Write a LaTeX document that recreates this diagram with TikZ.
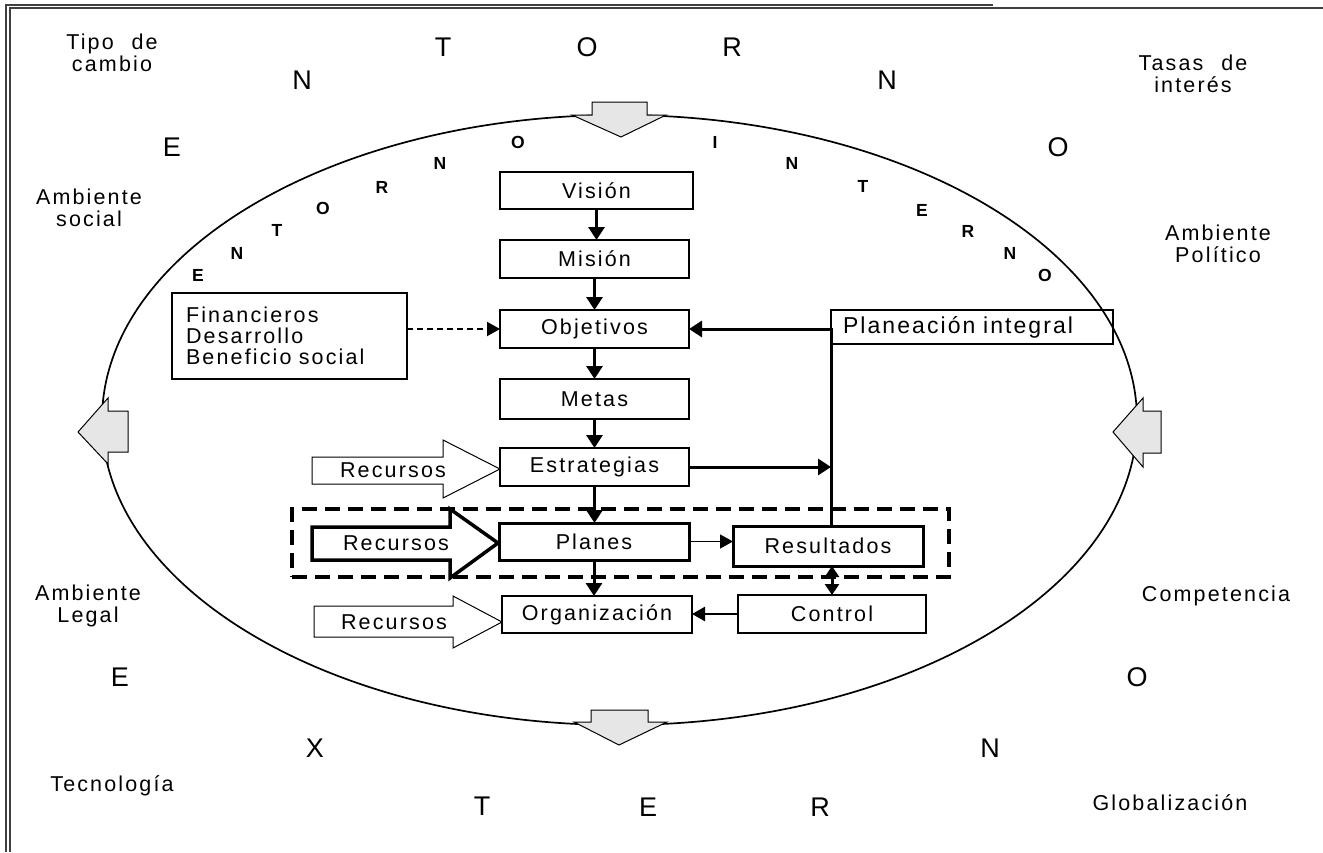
\documentclass[tikz,border=0pt]{standalone}
\usepackage{fontspec}
\setmainfont{Liberation Sans}
\newfontfamily\spc[LetterSpace=10,WordSpace=2.2]{Liberation Sans}
\newfontfamily\spcb[LetterSpace=9,WordSpace=2.0]{Liberation Sans}
\usetikzlibrary{arrows.meta,calc}
\definecolor{arrowgray}{HTML}{E6E6E6}
\begin{document}
\begin{tikzpicture}[x=1pt,y=-1pt,
  every node/.style={inner sep=0pt, outer sep=0pt},
  lbl/.style={font=\spc\fontsize{21.5}{22}\selectfont, align=center},
  box/.style={draw, line width=1.5pt, font=\spc\fontsize{21.5}{22}\selectfont},
  thickbox/.style={box, line width=3pt},
  outerletter/.style={font=\fontsize{27}{27}\selectfont},
  innerletter/.style={font=\bfseries\fontsize{17.5}{17.5}\selectfont},
  arr/.style={line width=3pt, -{Triangle[width=16pt,length=13pt]}},
  thinarr/.style={line width=1.5pt, -{Triangle[width=14pt,length=13pt]}},
  dasharr/.style={line width=2pt, dash pattern=on 6pt off 4pt, -{Triangle[width=14pt,length=13pt]}},
  blockarrow/.style={draw, line width=1pt, fill=white},
  grayarrow/.style={draw, line width=1pt, fill=arrowgray},
  frameline/.style={line width=1.5pt, draw=black!75}
]
\useasboundingbox (0,0) rectangle (1323,852);
% frame
\draw[frameline] (6,852) -- (6,5) -- (993,5);
\draw[frameline] (10,852) -- (10,8) -- (1323,8);

% ellipse
\draw[line width=1.7pt] (619.5,420) ellipse [x radius=517.5pt, y radius=305pt];

% gray arrows on the ellipse
\draw[grayarrow] (592,102) -- (647,102) -- (647,115) -- (666,115) -- (621,137) -- (572,115) -- (592,115) -- cycle;
\draw[grayarrow] (591,710) -- (648,710) -- (648,722) -- (667,722) -- (619,745) -- (574,722) -- (591,722) -- cycle;
\draw[grayarrow] (128,411) -- (128,452) -- (108,452) -- (108,464) -- (78,432) -- (108,398) -- (108,411) -- cycle;
\draw[grayarrow] (1143,411) -- (1161,411) -- (1161,453) -- (1143,453) -- (1143,467) -- (1113,432) -- (1143,398) -- cycle;

% outer letters ENTORNO EXTERNO
\node[outerletter] (oa) at (172,147) {E};
\node[outerletter] (ob) at (302,80) {N};
\node[outerletter] (oc) at (443,47) {T};
\node[outerletter] (od) at (587,47) {O};
\node[outerletter] (oe) at (732,47) {R};
\node[outerletter] (of) at (887,80) {N};
\node[outerletter] (og) at (1058,147) {O};
\node[outerletter] (oh) at (120,677) {E};
\node[outerletter] (oi) at (315,748) {X};
\node[outerletter] (oj) at (482,806) {T};
\node[outerletter] (ok) at (648,807) {E};
\node[outerletter] (ol) at (820,807) {R};
\node[outerletter] (om) at (990,748) {N};
\node[outerletter] (on) at (1137,677) {O};

% inner letters ENTORNO INTERNO
\node[innerletter] (ia) at (198,275) {E};
\node[innerletter] (ib) at (237,253) {N};
\node[innerletter] (ic) at (277,230) {T};
\node[innerletter] (id) at (323,208) {O};
\node[innerletter] (ie) at (382,187) {R};
\node[innerletter] (if) at (440,163) {N};
\node[innerletter] (ig) at (518,142) {O};
\node[innerletter] (ih) at (715,142) {I};
\node[innerletter] (ii) at (792,163) {N};
\node[innerletter] (ij) at (863,186) {T};
\node[innerletter] (ik) at (922,210) {E};
\node[innerletter] (il) at (968,231) {R};
\node[innerletter] (im) at (1010,253) {N};
\node[innerletter] (in) at (1045,275) {O};

% side labels
\node[lbl] (tipo) at (112,53) {Tipo de\\cambio};
\node[lbl] (tasas) at (1193,74) {Tasas de\\interés};
\node[lbl] (asoc) at (89,208) {Ambiente\\social};
\node[lbl] (apol) at (1218,244) {Ambiente\\Político};
\node[lbl] (aleg) at (88,606) {Ambiente\\Legal};
\node[lbl] (comp) at (1216,596) {Competencia};
\node[lbl] (tec) at (112,786) {Tecnología};
\node[lbl] (glob) at (1170,803) {Globalización};

% dashed group
\node[draw, line width=4pt, dash pattern=on 15pt off 8pt, minimum width=657pt, minimum height=68pt] (grupo) at (620.5,543) {};

% boxes
\node[box, minimum width=193pt, minimum height=37pt] (vision) at (596.5,190.5) {Visión};
\node[box, minimum width=189pt, minimum height=38pt] (mision) at (594.5,259) {Misión};
\node[box, minimum width=189pt, minimum height=38pt] (objetivos) at (594.5,329) {Objetivos};
\node[box, minimum width=189pt, minimum height=40pt] (metas) at (594.5,399) {Metas};
\node[box, minimum width=189pt, minimum height=38pt] (estrategias) at (594.5,467) {Estrategias};
\node[thickbox, minimum width=190pt, minimum height=37pt, fill=white] (planes) at (594,541.5) {Planes};
\node[thickbox, minimum width=190pt, minimum height=40pt, fill=white] (resultados) at (828,546) {Resultados};
\node[box, minimum width=190pt, minimum height=37pt] (organizacion) at (597,614.5) {Organización};
\node[box, minimum width=188pt, minimum height=38pt] (control) at (832,614) {Control};
\node[draw, line width=1.5pt, font=\spcb\fontsize{23}{24}\selectfont, minimum height=34pt, text width=258pt, inner xsep=12pt, align=left] (planeacion) at (972,327) {Planeación integral};
\node[draw, line width=1.5pt, font=\spc\fontsize{21.5}{21}\selectfont, minimum height=86pt, text width=207pt, inner xsep=14pt, align=left] (financieros) at (289.5,336) {Financieros\\Desarrollo\\Beneficio social};

% Recursos block arrows
\draw[blockarrow] (312,457) -- (443,457) -- (443,440) -- (500,469) -- (443,498) -- (443,484) -- (312,484) -- cycle;
\node[font=\spc\fontsize{21.5}{22}\selectfont] (rec1) at (393,470) {Recursos};
\draw[blockarrow, line width=3.5pt] (312,527) -- (450,527) -- (450,509) -- (498,543) -- (450,578) -- (450,560) -- (312,560) -- cycle;
\node[font=\spc\fontsize{21.5}{22}\selectfont] (rec2) at (396,543) {Recursos};
\draw[blockarrow] (314,606) -- (453,606) -- (453,596) -- (502,622) -- (453,648) -- (453,637) -- (314,637) -- cycle;
\node[font=\spc\fontsize{21.5}{22}\selectfont] (rec3) at (394,622) {Recursos};

% connectors
\draw[arr] (vision.south) -- (vision.south |- mision.north);
\draw[arr] (mision.south) -- (mision.south |- objetivos.north);
\draw[arr] (objetivos.south) -- (objetivos.south |- metas.north);
\draw[arr] (metas.south) -- (metas.south |- estrategias.north);
\draw[arr] (estrategias.south) -- (estrategias.south |- planes.north);
\draw[arr] (planes.south) -- (planes.south |- organizacion.north);
\draw[dasharr] (financieros.east |- objetivos.west) -- (objetivos.west);
\draw[arr] (resultados.north -| planeacion.west) -- (planeacion.west |- objetivos.east) -- (objetivos.east);
\draw[arr] (estrategias.east) -- (estrategias.east -| planeacion.west);
\draw[thinarr] (planes.east) -- (planes.east -| resultados.west);
\draw[line width=3pt, {Triangle[width=14pt,length=11pt]}-{Triangle[width=14pt,length=11pt]}] (control.north |- resultados.south) -- (control.north);
\draw[line width=2.5pt, -{Triangle[width=14pt,length=13pt]}] (control.west) -- (control.west -| organizacion.east);
\end{tikzpicture}
\end{document}
